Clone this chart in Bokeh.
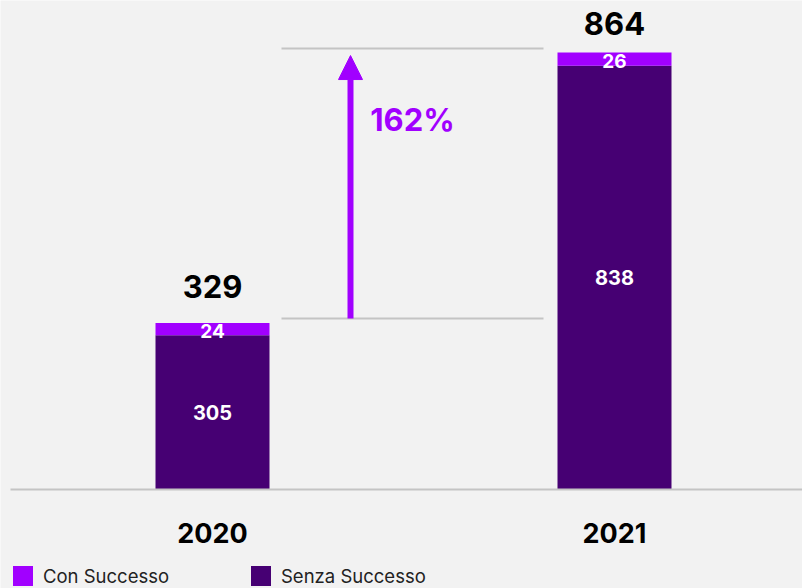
from bokeh.plotting import figure
from bokeh.models import Range1d, ColumnDataSource, Legend, LegendItem, Arrow, NormalHead
from bokeh.embed import file_html
from bokeh.resources import INLINE
from bokeh.core.properties import value

# ---- data ----
years = ["2020", "2021"]
senza = [305, 838]          # Senza Successo
con = [24, 26]              # Con Successo
totals = [329, 864]
growth_label = "162%"
ref_levels = [338, 872]     # guide lines for the growth arrow

LIGHT = "#a100ff"
DARK = "#460073"
GREY = "#c4c4c4"
BG = "#f2f2f2"
FONT = "Inter"

idx = list(range(len(years)))
src = ColumnDataSource(dict(
    x=idx, year=years, senza=senza, con=con, total=totals,
    senza_mid=[s / 2 for s in senza],
    con_mid=[s + c / 2 for s, c in zip(senza, con)],
    senza_lbl=[str(v) for v in senza],
    con_lbl=[str(v) for v in con],
    tot_lbl=[str(v) for v in totals],
    tot_off=[-37, -29],
))

p = figure(width=802, height=588, output_backend="svg", toolbar_location=None,
           x_range=Range1d(-212 / 402, 590 / 402), y_range=Range1d(-195.7, 966.8),
           min_border=0, background_fill_color=BG, border_fill_color=BG,
           outline_line_color=None)
p.axis.visible = False
p.grid.visible = False

bw = 114 / 402
r_dark = p.vbar(x="x", bottom=0, top="senza", width=bw, source=src,
                fill_color=DARK, line_color=None)
r_light = p.vbar(x="x", bottom="senza", top="total", width=bw, source=src,
                 fill_color=LIGHT, line_color=None)

# baseline
p.segment(x0=[-202 / 402], x1=[590 / 402], y0=[0], y1=[0], line_color=GREY, line_width=2)

# guide lines
p.segment(x0=[69 / 402] * 2, x1=[331 / 402] * 2, y0=ref_levels, y1=ref_levels,
          line_color=GREY, line_width=2)

# arrow
ax = 138 / 402
p.add_layout(Arrow(x_start=ax, y_start=ref_levels[0], x_end=ax, y_end=ref_levels[1] - 14,
                   line_color=LIGHT, line_width=6,
                   end=NormalHead(size=24, fill_color=LIGHT, line_color=LIGHT, line_width=1)))
p.text(x=[(412 - 212) / 402], y=[(489 - 119) / 0.5058], text=[growth_label],
       text_font=value(FONT), text_font_style="bold", text_font_size="31px",
       text_color=LIGHT, text_align="center", text_baseline="middle")

# labels
p.text(x="x", y="senza_mid", text="senza_lbl", source=src, text_font=value(FONT),
       text_font_style="bold", text_font_size="20px", text_color="white",
       text_align="center", text_baseline="middle")
p.text(x="x", y="con_mid", text="con_lbl", source=src, text_font=value(FONT),
       text_font_style="bold", text_font_size="19px", text_color="white",
       text_align="center", text_baseline="middle", y_offset=2)
p.text(x="x", y="total", text="tot_lbl", source=src, text_font=value(FONT),
       text_font_style="bold", text_font_size="31px", text_color="black",
       text_align="center", text_baseline="alphabetic", y_offset="tot_off")
p.text(x="x", y=-85, text="year", source=src, text_font=value(FONT),
       text_font_style="bold", text_font_size="27px", text_color="black",
       text_align="center", text_baseline="middle")

for rend, lab, loc in [(r_light, "Con Successo", (10, 0)), (r_dark, "Senza Successo", (248, 0))]:
    lg = Legend(items=[LegendItem(label=lab, renderers=[rend])], location=loc,
                orientation="horizontal", padding=0, margin=0, border_line_alpha=0,
                background_fill_alpha=0, glyph_width=25, glyph_height=25,
                label_standoff=8, label_text_font=FONT, label_text_font_size="18.5px",
                label_text_color="#222222", label_height=25)
    p.add_layout(lg)

open("out.html", "w").write(file_html(p, INLINE))
